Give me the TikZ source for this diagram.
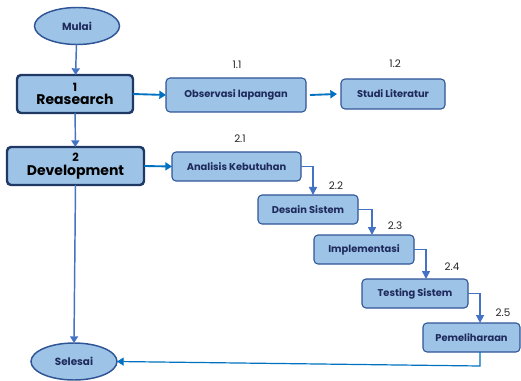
\documentclass[tikz,border=0pt]{standalone}
\usepackage{fontspec}
\setmainfont{Poppins}
\usetikzlibrary{arrows.meta,shapes.geometric}
\definecolor{boxfill}{HTML}{9DC3E6}
\definecolor{darkedge}{HTML}{1F3864}
\definecolor{edge}{HTML}{2F5597}
\definecolor{txt}{HTML}{1F2A5C}
\definecolor{arrA}{HTML}{4472C4}
\definecolor{arrB}{HTML}{0070C0}
\tikzset{
  mainbox/.style={draw=darkedge, line width=1.8pt, fill=boxfill, rounded corners=3pt, align=center, outer sep=0pt, inner sep=0pt, font=\fontsize{10.5}{10.2}\selectfont\bfseries},
  subbox/.style={draw=edge, line width=0.8pt, fill=boxfill, rounded corners=3pt, outer sep=0pt, inner sep=0pt, text=txt, font=\fontsize{7.4}{8}\selectfont\bfseries},
  term/.style={ellipse, draw=edge, line width=1.1pt, fill=boxfill, outer sep=0pt, inner sep=0pt, text=txt, font=\fontsize{7.8}{8}\selectfont\bfseries},
  numlabel/.style={font=\fontsize{7.8}{8}\selectfont, text=black!85},
  vconn/.style={draw=arrA, line width=1.1pt, -{Triangle[width=6pt,length=5pt]}},
  hconn/.style={draw=arrB, line width=1.4pt, -{Triangle[width=6pt,length=5pt]}},
  econn/.style={draw=arrA, line width=1.1pt, -{Triangle[width=6pt,length=6pt]}},
  fconn/.style={draw=arrB, line width=0.9pt, -{Triangle[width=6pt,length=5pt]}},
}
\begin{document}
\begin{tikzpicture}[x=0.75pt,y=-0.75pt]
\useasboundingbox (0,0) rectangle (521,381);
% terminals
\node[term, minimum width=63.75pt, minimum height=27.75pt] (mulai) at (77,26) {Mulai};
\node[term, minimum width=64.5pt, minimum height=27.75pt] (selesai) at (74,361.5) {Selesai};
% main boxes
\node[mainbox, minimum width=87pt, minimum height=28.5pt] (research) at (75,94) {{\fontsize{8.5}{8.5}\selectfont 1}\\Reasearch};
\node[mainbox, minimum width=102.75pt, minimum height=28.5pt] (dev) at (75.5,166) {{\fontsize{8.5}{8.5}\selectfont 2}\\Development};
% sub boxes
\node[subbox, minimum width=105pt, minimum height=25.5pt] (obs) at (236,95) {Observasi lapangan};
\node[subbox, minimum width=78pt, minimum height=22.5pt] (studi) at (393,94) {Studi Literatur};
\node[subbox, minimum width=96.75pt, minimum height=21.75pt] (anal) at (236.5,166.5) {Analisis Kebutuhan};
\node[subbox, minimum width=75pt, minimum height=21.75pt] (desain) at (308,209.5) {Desain Sistem};
\node[subbox, minimum width=75pt, minimum height=21.75pt] (impl) at (364,249.5) {Implementasi};
\node[subbox, minimum width=79.5pt, minimum height=21.75pt] (test) at (415,293.5) {Testing Sistem};
\node[subbox, minimum width=72.75pt, minimum height=21.75pt] (pem) at (471.5,337.5) {Pemeliharaan};
% number labels
\node[numlabel] (n11) at (237,65) {1.1};
\node[numlabel] (n12) at (395,64) {1.2};
\node[numlabel] (n21) at (240,139) {2.1};
\node[numlabel] (n22) at (336,186) {2.2};
\node[numlabel] (n23) at (395,226) {2.3};
\node[numlabel] (n24) at (452,267) {2.4};
\node[numlabel] (n25) at (503,313) {2.5};
% connectors
\draw[vconn] (mulai) -- (research);
\draw[vconn] (research) -- (dev);
\draw[vconn] (dev.south) -- (selesai.north);
\draw[hconn] (research.east) -- (obs.west);
\draw[hconn] ([xshift=3pt]obs.east) -- ([xshift=-3pt]studi.west);
\draw[hconn] (dev.east) -- (anal.west);
\draw[econn] (anal.east) -| ([xshift=3.75pt]desain.north);
\draw[econn] (desain.east) -| ([xshift=6pt]impl.north);
\draw[econn] (impl.east) -| ([xshift=8.25pt]test.north);
\draw[econn] (test.east) -| ([xshift=6.4pt]pem.north);
\coordinate (corner) at (480,366);
\draw[fconn] ([xshift=6.4pt]pem.south) -- (corner) -- (selesai.east);
\end{tikzpicture}
\end{document}
